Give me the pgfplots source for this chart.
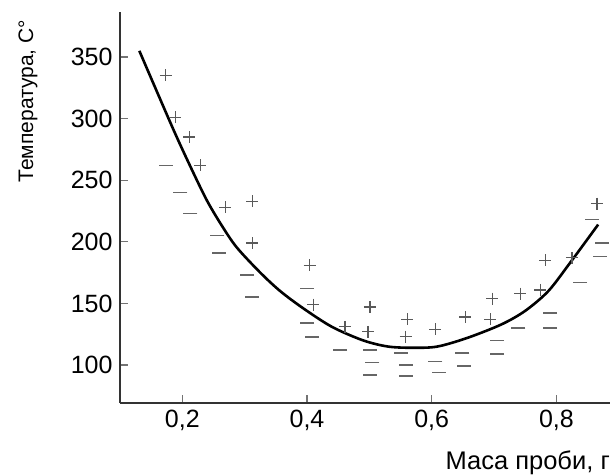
\documentclass[border=0pt]{standalone}
\usepackage{fontspec}
\setmainfont{Liberation Sans}
\usepackage{pgfplots}
\pgfplotsset{compat=1.18}

\begin{document}
\begin{tikzpicture}
\begin{axis}[
  scale only axis, width=490pt, height=391pt,
  xmin=0.1, xmax=0.886, ymin=69.2, ymax=386.5,
  axis x line=bottom, axis y line=left,
  axis line style={-, line width=1.8pt, black!80},
  tick align=inside, major tick length=8pt,
  tick style={line width=1.2pt, black!55},
  xtick={0.2,0.4,0.6,0.8}, xticklabels={{0,2},{0,4},{0,6},{0,8}},
  ytick={100,150,200,250,300,350}, yticklabels={100,150,200,250,300,350},
  ticklabel style={font=\fontsize{25}{30}\selectfont},
  xticklabel style={yshift=-4pt},
  yticklabel style={xshift=-4pt},
  xlabel={Маса проби, г}, ylabel={Температура, С°},
  xlabel style={font=\fontsize{25.5}{30}\selectfont, at={(axis description cs:1,-0.153)}, anchor=east, inner sep=0pt},
  ylabel style={font=\fontsize{21}{25}\selectfont, at={(axis description cs:-0.188,0.772)}, anchor=center, inner sep=0pt},
  clip=false,
]
% fitted curve
\addplot[black, line width=2.6pt, smooth, tension=0.5] coordinates {
  (0.131,355) (0.184,293) (0.213,261) (0.240,233) (0.266,211) (0.288,195)
  (0.325,175) (0.357,160) (0.394,146) (0.440,131) (0.490,120) (0.530,115)
  (0.570,114) (0.609,115) (0.657,122) (0.712,133) (0.750,144) (0.787,160)
  (0.822,183) (0.867,214)
};
% plus marks
\addplot[only marks, mark=+, mark size=6pt, black!65, line width=1.3pt] coordinates {
  (0.173,335) (0.189,301) (0.211,285) (0.229,262) (0.269,228) (0.312,233)
  (0.312,199) (0.404,181) (0.410,149) (0.461,131) (0.501,147) (0.498,127)
  (0.561,137) (0.558,123) (0.606,129) (0.654,139) (0.697,154) (0.694,137)
  (0.742,158) (0.774,161) (0.782,185) (0.825,187) (0.865,231)
};
% dash marks
\addplot[only marks, mark=-, mark size=7pt, black!60, line width=1.6pt] coordinates {
  (0.173,262) (0.197,240) (0.213,223) (0.256,205) (0.258,191) (0.304,173)
  (0.312,155) (0.400,162) (0.400,134) (0.408,123) (0.453,112) (0.501,112)
  (0.505,102) (0.501,92) (0.550,110) (0.558,100) (0.558,91) (0.606,103)
  (0.611,94) (0.649,110) (0.651,99) (0.705,120) (0.705,109) (0.739,130)
  (0.790,142) (0.790,130) (0.838,167) (0.857,218) (0.873,199) (0.870,188)
};
\end{axis}
\pgfresetboundingbox
\path[use as bounding box] (current axis.south west) ++(-120pt,-73pt) rectangle ([yshift=12pt]current axis.north east);
\end{tikzpicture}
\end{document}
